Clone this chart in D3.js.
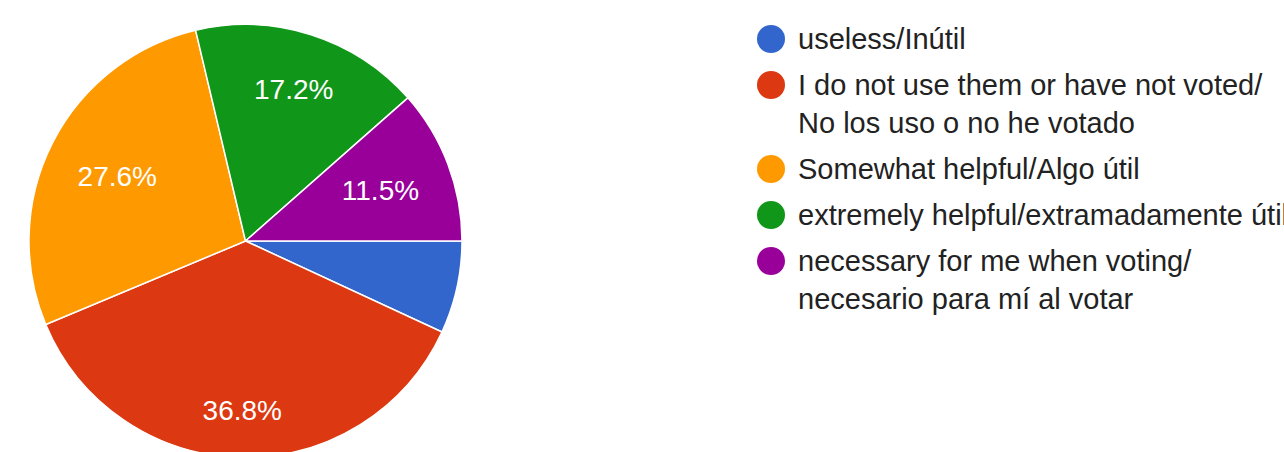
<html>
<head>
<title>Pie chart</title>
<style>
/* Global font */
body {
	margin: 0;
	background: #fff;
	font-family: 'Liberation Sans', Arial, sans-serif;
}
svg {
	display: block;
}
</style>
</head>
<body>
<svg width="1284" height="452"></svg>
<script src="https://d3js.org/d3.v7.min.js"></script>
<script>
// Chart data
const categories = [
	"useless/Inútil",
	"I do not use them or have not voted/\nNo los uso o no he votado",
	"Somewhat helpful/Algo útil",
	"extremely helpful/extramadamente útil",
	"necessary for me when voting/\nnecesario para mí al votar"
];
const values = [6.9, 36.8, 27.6, 17.2, 11.5];
const sliceLabels = ["", "36.8%", "27.6%", "17.2%", "11.5%"];
const colors = ["#3366cc", "#dc3912", "#ff9900", "#109618", "#990099"];

const svg = d3.select("svg");

// Pie geometry
const cx = 245.5, cy = 241, radius = 216.5;

const color = d3.scaleOrdinal().domain(d3.range(categories.length)).range(colors);

// start at 3 o'clock, go clockwise
const pie = d3.pie()
	.sort(null)
	.value(function(d) { return d; })
	.startAngle(Math.PI / 2)
	.endAngle(Math.PI / 2 + 2 * Math.PI);

const arc = d3.arc().innerRadius(0).outerRadius(radius);

const g = svg.append("g").attr("transform", "translate(" + cx + "," + cy + ")");

const arcs = pie(values);

g.selectAll("path")
	.data(arcs)
	.enter()
	.append("path")
	.attr("d", arc)
	.attr("fill", function(d, i) { return color(i); })
	.attr("stroke", "#fff")
	.attr("stroke-width", 1.5)
	.attr("stroke-linejoin", "round");

// percentage labels: push along the mid angle until the outer corner
// of the text box touches a fixed inner radius
const cornerR = radius * 0.85;
g.selectAll("text.pct")
	.data(arcs)
	.enter()
	.append("text")
	.attr("class", "pct")
	.attr("text-anchor", "middle")
	.attr("dy", "0.36em")
	.attr("fill", "#fff")
	.style("font-size", "28px")
	.text(function(d, i) { return sliceLabels[i]; })
	.attr("transform", function(d) {
		const a = (d.startAngle + d.endAngle) / 2;
		const ux = Math.sin(a), uy = -Math.cos(a);
		const hw = this.getComputedTextLength() / 2, hh = 10;
		const c = [Math.sign(ux) * hw, Math.sign(uy) * hh];
		const uc = ux * c[0] + uy * c[1];
		const t = -uc + Math.sqrt(uc * uc - (c[0] * c[0] + c[1] * c[1]) + cornerR * cornerR);
		return "translate(" + (t * ux) + "," + (t * uy) + ")";
	});

// Legend
const legendX = 771, textX = 798, itemGap = 46, lineGap = 38;
let baseline = 49;
const legend = svg.append("g");

categories.forEach(function(cat, i) {
	const lines = cat.split("\n");
	legend.append("circle")
		.attr("cx", legendX)
		.attr("cy", baseline - 10)
		.attr("r", 14)
		.attr("fill", color(i));
	const t = legend.append("text")
		.attr("x", textX)
		.attr("y", baseline)
		.attr("fill", "#222")
		.style("font-size", "29px");
	lines.forEach(function(line, j) {
		t.append("tspan")
			.attr("x", textX)
			.attr("dy", j === 0 ? 0 : lineGap)
			.text(line);
	});
	baseline += itemGap + (lines.length - 1) * lineGap;
});
</script>
</body>
</html>
